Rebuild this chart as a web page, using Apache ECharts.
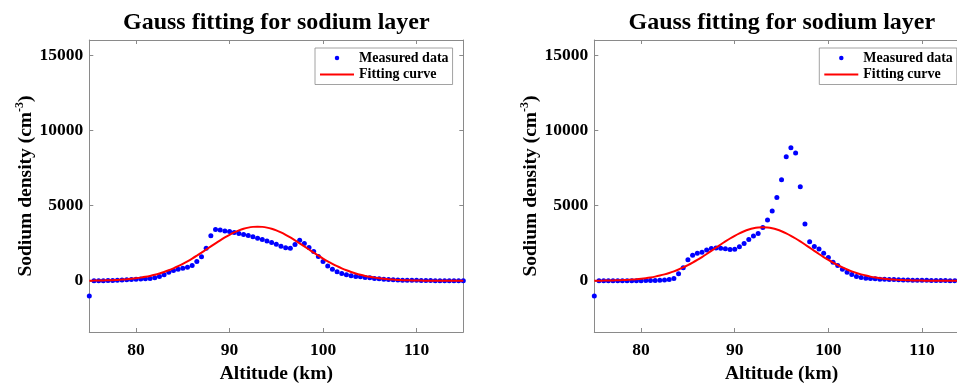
<!DOCTYPE html>
<html>
<head>
<meta charset="utf-8">
<script src="https://cdn.jsdelivr.net/npm/echarts@6/dist/echarts.min.js"></script>
<style>html,body{margin:0;padding:0;background:#fff}#c{width:957px;height:383px}</style>
</head>
<body>
<div id="c"></div>
<script>
const altitude = [75,75.5,76,76.5,77,77.5,78,78.5,79,79.5,80,80.5,81,81.5,82,82.5,83,83.5,84,84.5,85,85.5,86,86.5,87,87.5,88,88.5,89,89.5,90,90.5,91,91.5,92,92.5,93,93.5,94,94.5,95,95.5,96,96.5,97,97.5,98,98.5,99,99.5,100,100.5,101,101.5,102,102.5,103,103.5,104,104.5,105,105.5,106,106.5,107,107.5,108,108.5,109,109.5,110,110.5,111,111.5,112,112.5,113,113.5,114,114.5,115];

const leftMeasured = [-1000,0,5,10,15,25,35,50,70,90,
  110,125,140,160,200,287,398,575,686,774,
  840,907,1017,1283,1600,2168,3000,3410,3384,3318,
  3274,3207,3141,3075,3008,2920,2831,2743,2654,2543,
  2433,2300,2190,2168,2411,2698,2477,2212,1946,1614,
  1283,980,774,597,486,398,332,287,265,221,
  199,155,133,111,88,66,55,45,40,35,
  30,25,20,15,12,10,8,5,5,3,
  0];

const leftFit = [10,14,19,26,35,46,61,80,103,132,
  168,212,264,327,401,487,587,700,828,971,
  1128,1298,1480,1673,1873,2080,2287,2493,2693,2883,
  3057,3214,3348,3456,3535,3584,3600,3584,3535,3456,
  3348,3214,3057,2883,2693,2493,2287,2080,1873,1673,
  1480,1298,1128,971,828,700,587,487,401,327,
  264,212,168,132,103,80,61,46,35,26,
  19,14,10,7,5,4,3,2,1,1,
  0];

const rightMeasured = [-1000,0,0,0,0,0,0,5,5,10,
  10,15,20,25,35,50,80,150,464,863,
  1393,1703,1836,1902,2050,2145,2180,2170,2123,2078,
  2100,2256,2477,2743,2986,3140,3537,4048,4645,5528,
  6722,8248,8846,8494,6257,3782,2600,2276,2110,1838,
  1548,1238,1017,774,575,420,287,221,177,155,
  133,110,100,90,80,70,60,50,45,40,
  35,30,25,20,18,15,12,10,8,5,
  3];

const rightFit = [7,10,14,19,26,35,47,63,82,107,
  138,177,224,280,348,428,521,628,750,888,
  1040,1208,1388,1580,1782,1990,2201,2412,2617,2813,
  2994,3157,3297,3409,3492,3543,3560,3543,3492,3409,
  3297,3157,2994,2813,2617,2412,2201,1990,1782,1580,
  1388,1208,1040,888,750,628,521,428,348,280,
  224,177,138,107,82,63,47,35,26,19,
  14,10,7,5,3,2,2,1,1,0,
  0];

const xTicks = [80, 90, 100, 110];
const yTicks = [0, 5000, 10000, 15000];
const titleText = 'Gauss fitting for sodium layer';
const xName = 'Altitude (km)';
const yName = '{a|Sodium density (cm}{s|-3}{a|)}';
const seriesNames = ['Measured data', 'Fitting curve'];

const FONT = "'Liberation Serif','Times New Roman',serif";
const AX = '#8a8a8a';

const panels = [
  { left: 89.3, width: 374, measured: leftMeasured, fit: leftFit, legendLeft: 315, titleLeft: 123 },
  { left: 594.3, width: 374.5, measured: rightMeasured, fit: rightFit, legendLeft: 819.3, titleLeft: 628.5 }
];

const pairs = (ys) => altitude.map((x, i) => [x, ys[i]]);

const option = {
  animation: false,
  backgroundColor: '#fff',
  title: [], grid: [], xAxis: [], yAxis: [], legend: [], series: []
};

panels.forEach((p, gi) => {
  option.title.push({
    text: titleText, left: p.titleLeft, top: 11, padding: 0,
    textStyle: { fontFamily: FONT, fontWeight: 'bold', fontSize: 24, color: '#000' }
  });
  option.grid.push({ left: p.left, top: 40, width: p.width, height: 292, containLabel: false, outerBoundsMode: 'none' });
  const line = { show: true, onZero: false, lineStyle: { color: AX, width: 1 } };
  const tick = (vals) => ({ show: true, inside: true, length: 4, customValues: vals, lineStyle: { color: AX, width: 1 } });
  const label = { fontFamily: FONT, fontWeight: 'bold', fontSize: 17.5, color: '#000', formatter: (v) => String(v) };
  option.xAxis.push({
    type: 'value', gridIndex: gi, position: 'bottom', min: 75, max: 115,
    axisLine: line, axisTick: tick(xTicks), splitLine: { show: false },
    axisLabel: Object.assign({ customValues: xTicks, margin: 9 }, label),
    name: xName, nameLocation: 'middle', nameGap: 32,
    nameTextStyle: { fontFamily: FONT, fontWeight: 'bold', fontSize: 19.5, color: '#000' }
  });
  option.xAxis.push({
    type: 'value', gridIndex: gi, position: 'top', min: 75, max: 115,
    axisLine: line, axisTick: tick(xTicks), splitLine: { show: false }, axisLabel: { show: false }
  });
  option.yAxis.push({
    type: 'value', gridIndex: gi, position: 'left', min: -3400, max: 16000,
    axisLine: line, axisTick: tick(yTicks), splitLine: { show: false },
    axisLabel: Object.assign({ customValues: yTicks, margin: 6 }, label),
    name: yName, nameLocation: 'middle', nameGap: 47,
    nameTextStyle: {
      fontFamily: FONT, fontWeight: 'bold', fontSize: 19.5, color: '#000',
      rich: {
        a: { fontFamily: FONT, fontWeight: 'bold', fontSize: 19.5, color: '#000', lineHeight: 24 },
        s: { fontFamily: FONT, fontWeight: 'bold', fontSize: 12, color: '#000', lineHeight: 14, verticalAlign: 'top' }
      }
    }
  });
  option.yAxis.push({
    type: 'value', gridIndex: gi, position: 'right', min: -3400, max: 16000,
    axisLine: line, axisTick: tick(yTicks), splitLine: { show: false }, axisLabel: { show: false }
  });
  option.legend.push({
    data: [{ name: seriesNames[0] }, { name: seriesNames[1], itemStyle: { opacity: 0 } }],
    orient: 'vertical', left: p.legendLeft, top: 48,
    itemWidth: 34, itemHeight: 4.5, itemGap: 0.5,
    padding: [2, 4, 2, 4],
    backgroundColor: '#fff', borderColor: AX, borderWidth: 0.8, borderRadius: 0,
    textStyle: { fontFamily: FONT, fontWeight: 'bold', fontSize: 14, color: '#000', lineHeight: 16 },
    selectedMode: false
  });
  option.series.push({
    name: seriesNames[0], type: 'scatter', xAxisIndex: gi * 2, yAxisIndex: gi * 2,
    data: pairs(p.measured), symbol: 'circle', symbolSize: 5, clip: false,
    itemStyle: { color: '#0000ff', opacity: 1 }, z: 2
  });
  option.series.push({
    name: seriesNames[1], type: 'line', xAxisIndex: gi * 2, yAxisIndex: gi * 2,
    data: pairs(p.fit), symbol: 'none', showSymbol: false, smooth: 0.3,
    lineStyle: { color: '#ff0000', width: 2 }, itemStyle: { color: '#ff0000' }, z: 3
  });
});

const chart = echarts.init(document.getElementById('c'), null, { renderer: 'canvas' });
chart.setOption(option);
</script>
</body>
</html>
